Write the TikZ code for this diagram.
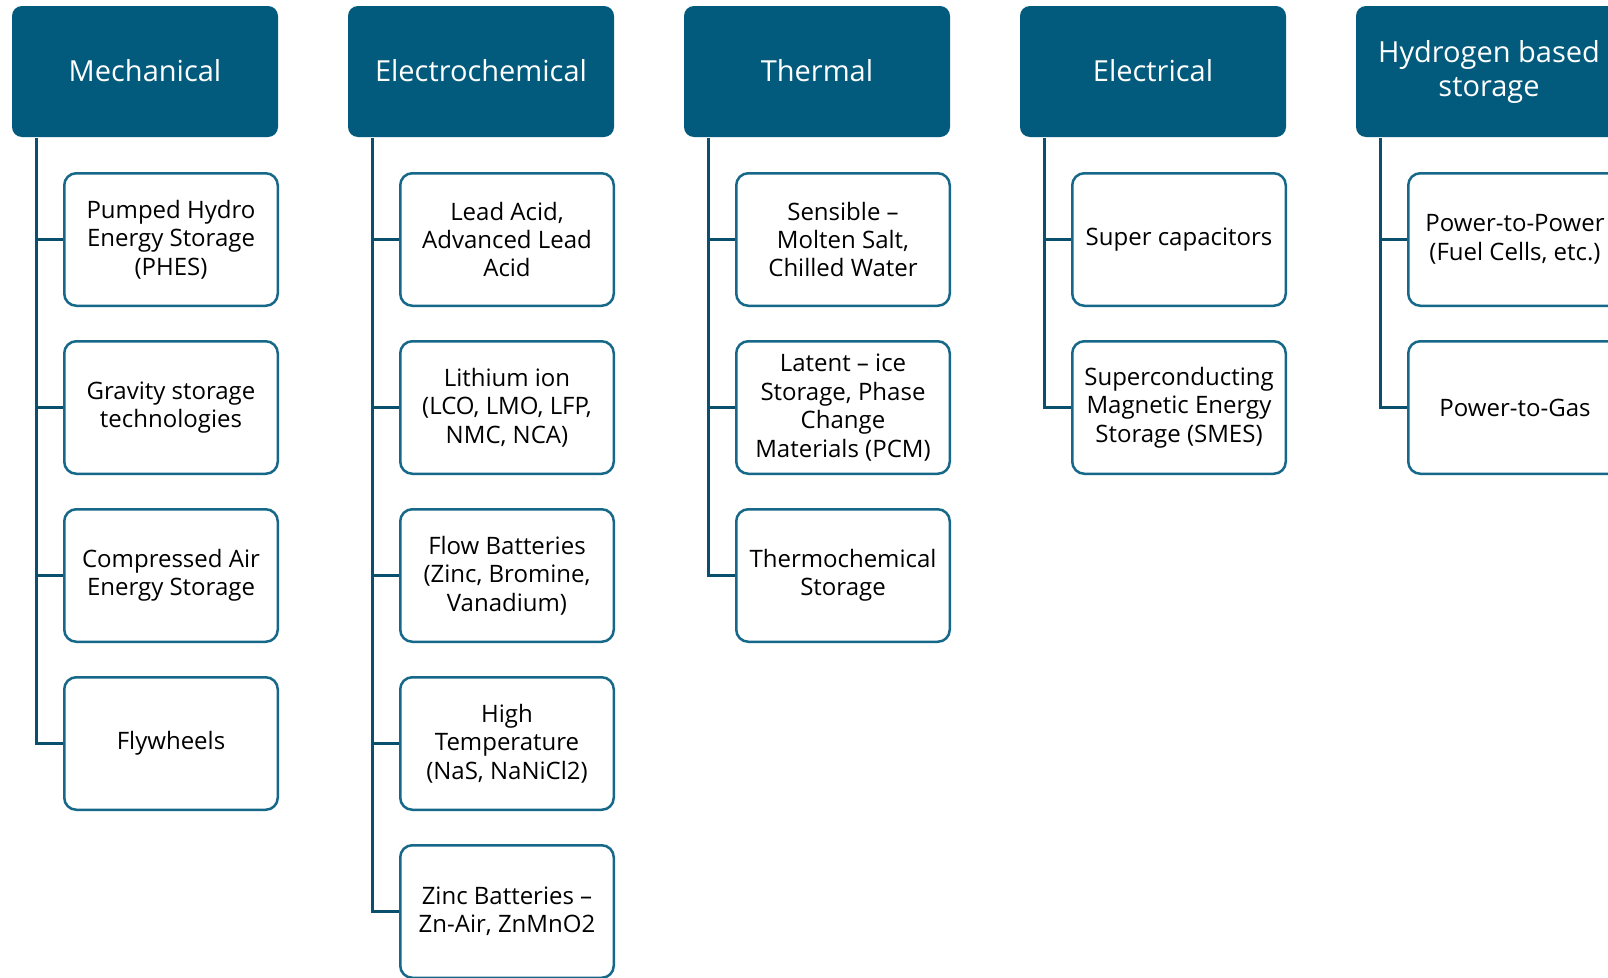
\documentclass[tikz,border=0pt]{standalone}
\usepackage{fontspec}
\setmainfont{Open Sans}
\definecolor{hdr}{RGB}{2,90,124}
\definecolor{brd}{RGB}{22,104,137}
\definecolor{lnk}{RGB}{10,80,110}
\tikzset{
  header/.style={fill=hdr, rounded corners=10pt, minimum width=266pt,
    minimum height=131pt, text=white, align=center, inner sep=0pt,
    font=\fontsize{29}{34}\selectfont},
  item/.style={draw=brd, line width=2.5pt, fill=white, rounded corners=12pt,
    minimum width=213.5pt, minimum height=132.5pt, align=center, inner sep=0pt,
    font=\fontsize{24}{28.4}\selectfont},
  link/.style={draw=lnk, line width=3pt}
}
\begin{document}
\begin{tikzpicture}[x=1pt,y=-1pt]
\useasboundingbox (0,0) rectangle (1608,977);
\clip (0,0) rectangle (1608,977);
\fill[white] (0,0) rectangle (1608,977);

% column headers
\node[header] (mech) at (145,71.5) {Mechanical\rule[-3pt]{0pt}{0pt}};
\node[header] (echem) at (481,71.5) {Electrochemical\rule[-3pt]{0pt}{0pt}};
\node[header] (therm) at (817,71.5) {Thermal\rule[-3pt]{0pt}{0pt}};
\node[header] (elec) at (1153,71.5) {Electrical\rule[-3pt]{0pt}{0pt}};
\node[header] (hyd) at (1489,71.5) {Hydrogen based\\storage};

% Mechanical
\node[item] (m1) at (171,239.5) {Pumped Hydro\\Energy Storage\\(PHES)};
\node[item] (m2) at (171,407.5) {Gravity storage\\technologies};
\node[item] (m3) at (171,575.5) {Compressed Air\\Energy Storage};
\node[item] (m4) at (171,743.5) {Flywheels};

% Electrochemical
\node[item] (e1) at (507,239.5) {Lead Acid,\\Advanced Lead\\Acid};
\node[item] (e2) at (507,407.5) {Lithium ion\\(LCO, LMO, LFP,\\NMC, NCA)};
\node[item] (e3) at (507,575.5) {Flow Batteries\\(Zinc, Bromine,\\Vanadium)};
\node[item] (e4) at (507,743.5) {High\\Temperature\\(NaS, NaNiCl2)};
\node[item] (e5) at (507,911.5) {Zinc Batteries --\\Zn-Air, ZnMnO2};

% Thermal
\node[item] (t1) at (843,239.5) {Sensible --\\Molten Salt,\\Chilled Water};
\node[item] (t2) at (843,407.5) {Latent -- ice\\Storage, Phase\\Change\\Materials (PCM)};
\node[item] (t3) at (843,575.5) {Thermochemical\\Storage};

% Electrical
\node[item] (c1) at (1179,239.5) {Super capacitors};
\node[item] (c2) at (1179,407.5) {Superconducting\\Magnetic Energy\\Storage (SMES)};

% Hydrogen based
\node[item] (h1) at (1515,239.5) {Power-to-Power\\(Fuel Cells, etc.)};
\node[item] (h2) at (1515,407.5) {Power-to-Gas};

% tree connectors
\foreach \h/\list in {mech/{m1,m2,m3,m4}, echem/{e1,e2,e3,e4,e5},
                      therm/{t1,t2,t3}, elec/{c1,c2}, hyd/{h1,h2}} {
  \foreach \c in \list {
    \draw[link] ([xshift=25pt,yshift=-1pt]\h.south west) |- (\c.west);
  }
}
\end{tikzpicture}
\end{document}
